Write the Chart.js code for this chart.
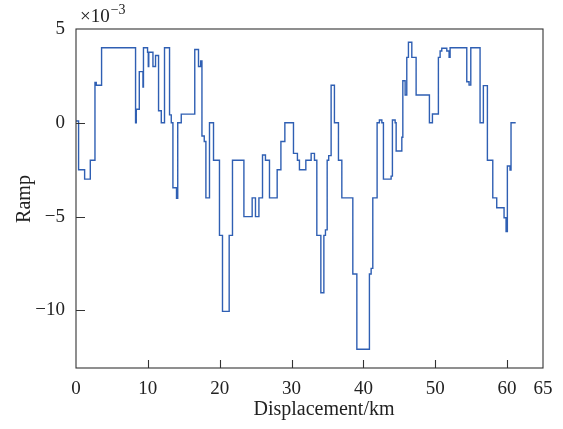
<!DOCTYPE html>
<html>
<head>
<meta charset="utf-8">
<script src="https://cdn.jsdelivr.net/npm/chart.js@4.4.1/dist/chart.umd.min.js"></script>
<style>
  html, body { margin: 0; padding: 0; background: #ffffff; }
  #wrap { width: 563px; height: 429px; position: relative; }
</style>
</head>
<body>
<div id="wrap"><canvas id="c" width="563" height="429"></canvas></div>
<script>
// Step profile: each value holds from its distance until the next distance
const distanceKm = [
  0, 0.36, 1.20, 1.99, 2.64, 2.82, 3.56, 8.29, 8.39, 8.81,
  9.32, 9.39, 9.96, 10.06, 10.13, 10.71, 11.07, 11.49, 11.87, 12.32,
  13.02, 13.26, 13.49, 13.99, 14.16, 14.65, 16.53, 17.05, 17.35, 17.53,
  17.85, 18.08, 18.58, 19.14, 19.97, 20.39, 21.32, 21.78, 23.37, 24.52,
  24.98, 25.46, 25.96, 26.37, 26.93, 28.00, 28.52, 29.07, 30.27, 30.82,
  31.10, 31.99, 32.73, 33.19, 33.52, 34.08, 34.50, 34.72, 34.96, 35.17,
  35.51, 35.97, 36.53, 37.00, 38.53, 39.09, 40.84, 41.08, 41.31, 41.91,
  42.23, 42.57, 42.79, 43.86, 44.04, 44.42, 44.56, 45.35, 45.49, 45.81,
  46.04, 46.27, 46.74, 47.34, 49.19, 49.61, 50.44, 50.68, 50.91, 51.61,
  51.93, 52.07, 54.39, 54.71, 54.95, 56.24, 56.70, 57.26, 58.01, 58.56,
  59.58, 59.86, 60.04, 60.41, 60.55, 61.20
];
const rampE3 = [
  0.1, -2.5, -3.0, -2.0, 2.15, 2.0, 4.0, 0.0, 0.72, 2.73,
  1.9, 4.0, 3.76, 3.0, 3.76, 3.0, 3.59, 0.64, 0.0, 4.0,
  0.42, 0.0, -3.46, -4.02, 0.0, 0.46, 3.91, 3.0, 3.3, -0.7,
  -1.0, -4.0, 0.0, -2.0, -6.0, -10.05, -6.0, -2.0, -5.0, -4.0,
  -5.0, -4.0, -1.72, -2.0, -4.0, -2.5, -1.0, 0.0, -1.63, -2.0,
  -2.5, -2.0, -1.63, -2.0, -6.0, -9.06, -6.0, -5.71, -2.0, -1.75,
  2.0, 0.0, -2.0, -4.0, -8.06, -12.07, -8.06, -7.76, -4.0, 0.0,
  0.15, 0.0, -3.0, -2.84, 0.15, 0.0, -1.5, -0.77, 2.24, 1.48,
  3.49, 4.29, 3.49, 1.48, 0.0, 0.47, 3.49, 3.83, 3.97, 3.83,
  3.49, 4.0, 2.19, 2.01, 4.0, 0.0, 1.98, -2.0, -4.0, -4.53,
  -5.06, -5.8, -2.3, -2.52, 0.0, 0.0
];
const xTickValues = [0, 10, 20, 30, 40, 50, 60, 65];
const yTickValues = [-10, -5, 0, 5];
const xTitle = 'Displacement/km';
const yTitle = 'Ramp';
const scaleBase = '\u00d710';
const scaleExp = '\u22123';

const SERIF = '"Liberation Serif", "Times New Roman", serif';
const INK = '#222222';

const points = distanceKm.map((x, i) => ({ x: x, y: rampE3[i] }));

const decorations = {
  id: 'decorations',
  afterDatasetsDraw(chart) {
    const ctx = chart.ctx;
    const a = chart.chartArea;
    const xs = chart.scales.x, ys = chart.scales.y;
    ctx.save();
    ctx.strokeStyle = '#333333';
    ctx.lineWidth = 1.1;
    ctx.strokeRect(a.left, a.top, a.right - a.left, a.bottom - a.top);
    ctx.beginPath();
    xTickValues.forEach(v => {
      if (v <= xs.min || v >= xs.max) return;
      const px = Math.round(xs.getPixelForValue(v)) + 0.5;
      ctx.moveTo(px, a.bottom);
      ctx.lineTo(px, a.bottom - 8);
    });
    yTickValues.forEach(v => {
      if (v <= ys.min || v >= ys.max) return;
      const py = Math.round(ys.getPixelForValue(v)) + 0.5;
      ctx.moveTo(a.left, py);
      ctx.lineTo(a.left + 9, py);
    });
    ctx.stroke();
    ctx.restore();
  },
  afterDraw(chart) {
    const ctx = chart.ctx;
    ctx.save();
    ctx.fillStyle = INK;
    ctx.font = '20px ' + SERIF;
    ctx.textAlign = 'center';
    ctx.textBaseline = 'middle';
    ctx.fillText(xTitle, 324, 410);
    ctx.save();
    ctx.translate(25, 199);
    ctx.rotate(-Math.PI / 2);
    ctx.fillText(yTitle, 0, 0);
    ctx.restore();
    ctx.textAlign = 'left';
    ctx.textBaseline = 'alphabetic';
    ctx.font = '19px ' + SERIF;
    ctx.fillText(scaleBase, 80, 22);
    const w = ctx.measureText(scaleBase).width;
    ctx.font = '14px ' + SERIF;
    ctx.fillText(scaleExp, 80 + w + 1, 14);
    ctx.restore();
  }
};

new Chart(document.getElementById('c'), {
  type: 'line',
  data: {
    datasets: [{
      data: points,
      stepped: true,
      borderColor: '#2f5fb3',
      borderWidth: 1.4,
      pointRadius: 0,
      fill: false
    }]
  },
  options: {
    responsive: false,
    devicePixelRatio: 1,
    animation: false,
    events: [],
    layout: { padding: { top: 29, right: 20, left: 0, bottom: 0 } },
    plugins: { legend: { display: false }, tooltip: { enabled: false } },
    scales: {
      x: {
        type: 'linear',
        min: 0,
        max: 65,
        afterBuildTicks: s => { s.ticks = xTickValues.map(v => ({ value: v })); },
        afterFit: s => { s.height = 61; },
        grid: { display: false, drawTicks: false },
        border: { display: false },
        ticks: {
          autoSkip: false,
          maxRotation: 0,
          padding: 10,
          color: INK,
          font: { family: SERIF, size: 19 },
          callback: v => String(v)
        }
      },
      y: {
        type: 'linear',
        min: -13.07,
        max: 5,
        afterBuildTicks: s => { s.ticks = yTickValues.map(v => ({ value: v })); },
        afterFit: s => { s.width = 76; },
        grid: { display: false, drawTicks: false },
        border: { display: false },
        ticks: {
          padding: 11,
          color: INK,
          font: { family: SERIF, size: 19 },
          callback: v => (v < 0 ? '\u2212' + Math.abs(v) : String(v))
        }
      }
    }
  },
  plugins: [decorations]
});
</script>
</body>
</html>
